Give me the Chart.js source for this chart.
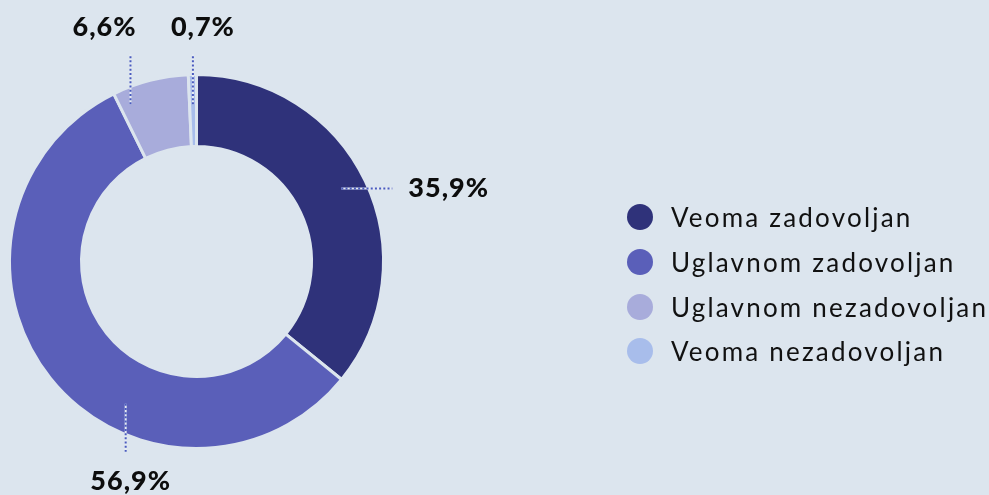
<!DOCTYPE html>
<html>
<head>
<meta charset="utf-8">
<script src="https://cdn.jsdelivr.net/npm/chart.js@4"></script>
<style>
  body { margin: 0; background: #dce5ee; }
  #wrap { position: relative; width: 989px; height: 495px; }
  #legend { position: absolute; left: 627px; top: 195px; font-family: Lato, sans-serif; font-size: 26px; letter-spacing: 2.2px; color: #111; }
  #legend div { display: flex; align-items: center; height: 44.7px; white-space: nowrap; }
  #legend span { display: inline-block; width: 26px; height: 26px; border-radius: 50%; margin-right: 18px; }
</style>
</head>
<body>
<div id="wrap"><canvas id="satChart"></canvas><div id="legend"></div></div>
<script>
const categories = ['Veoma zadovoljan', 'Uglavnom zadovoljan', 'Uglavnom nezadovoljan', 'Veoma nezadovoljan'];
const shares = [35.9, 56.9, 6.6, 0.7];
const colors = ['#2f327a', '#5a5fb9', '#a8acdb', '#a8bdeb'];

// callout placement per slice: position along the arc / across the ring, leader direction and length, text offset
const callouts = [
  { along: 0.49, across: 0.655, dir: 'right', len: 51, dx: 16, dy: 0, align: 'left' },
  { along: 0.378, across: 0.61, dir: 'down', len: 48, dx: 5, dy: 30, align: 'center' },
  { along: 0.146, across: 0.77, dir: 'up', len: 50, dx: -26, dy: -27, align: 'center' },
  { along: 0.48, across: 0.586, dir: 'up', len: 50, dx: 10, dy: -27, align: 'center' }
];

const calloutPlugin = {
  id: 'callouts',
  afterDatasetsDraw(chart) {
    const ctx = chart.ctx;
    const arcs = chart.getDatasetMeta(0).data;
    arcs.forEach((arc, i) => {
      const c = callouts[i];
      const p = arc.getProps(['x', 'y', 'startAngle', 'endAngle', 'innerRadius', 'outerRadius'], true);
      const a = p.startAngle + c.along * (p.endAngle - p.startAngle);
      const r = p.innerRadius + c.across * (p.outerRadius - p.innerRadius);
      const x0 = p.x + r * Math.cos(a);
      const y0 = p.y + r * Math.sin(a);
      let x1 = x0, y1 = y0;
      if (c.dir === 'right') x1 += c.len;
      if (c.dir === 'up') y1 -= c.len;
      if (c.dir === 'down') y1 += c.len;

      ctx.save();
      ctx.lineWidth = 2;
      ctx.strokeStyle = '#e6ecf3';
      ctx.beginPath(); ctx.moveTo(x0, y0); ctx.lineTo(x1, y1); ctx.stroke();
      ctx.strokeStyle = '#4a5bbf';
      ctx.setLineDash([2, 2.2]);
      ctx.beginPath(); ctx.moveTo(x0, y0); ctx.lineTo(x1, y1); ctx.stroke();
      ctx.setLineDash([]);

      ctx.fillStyle = '#0d0d0d';
      ctx.font = '900 27px Lato, sans-serif';
      ctx.letterSpacing = '1px';
      ctx.textAlign = c.align;
      ctx.textBaseline = 'middle';
      ctx.fillText(shares[i].toFixed(1).replace('.', ',') + '%', x1 + c.dx, y1 + c.dy);
      ctx.restore();
    });
  }
};

const ctx1 = document.getElementById('satChart').getContext('2d');
const satChart = new Chart(ctx1, {
    type: 'doughnut',
    data: {
        labels: categories,
        datasets: [{
            data: shares,
            backgroundColor: colors,
            borderColor: '#dce5ee',
            borderWidth: 3
        }]
    },
    options: {
        responsive: true,
        maintainAspectRatio: false,
        animation: false,
        cutout: '61.5%',
        layout: { padding: { left: 8, right: 604, top: 73, bottom: 45 } },
        plugins: {
            legend: { display: false },
            tooltip: { enabled: false }
        }
    },
    plugins: [calloutPlugin]
});

// legend as html next to the chart
const legendEl = document.getElementById('legend');
satChart.options.plugins.legend.labels.generateLabels(satChart).forEach(item => {
    const row = document.createElement('div');
    const dot = document.createElement('span');
    dot.style.background = item.fillStyle;
    row.appendChild(dot);
    row.appendChild(document.createTextNode(item.text));
    legendEl.appendChild(row);
});
</script>
</body>
</html>
